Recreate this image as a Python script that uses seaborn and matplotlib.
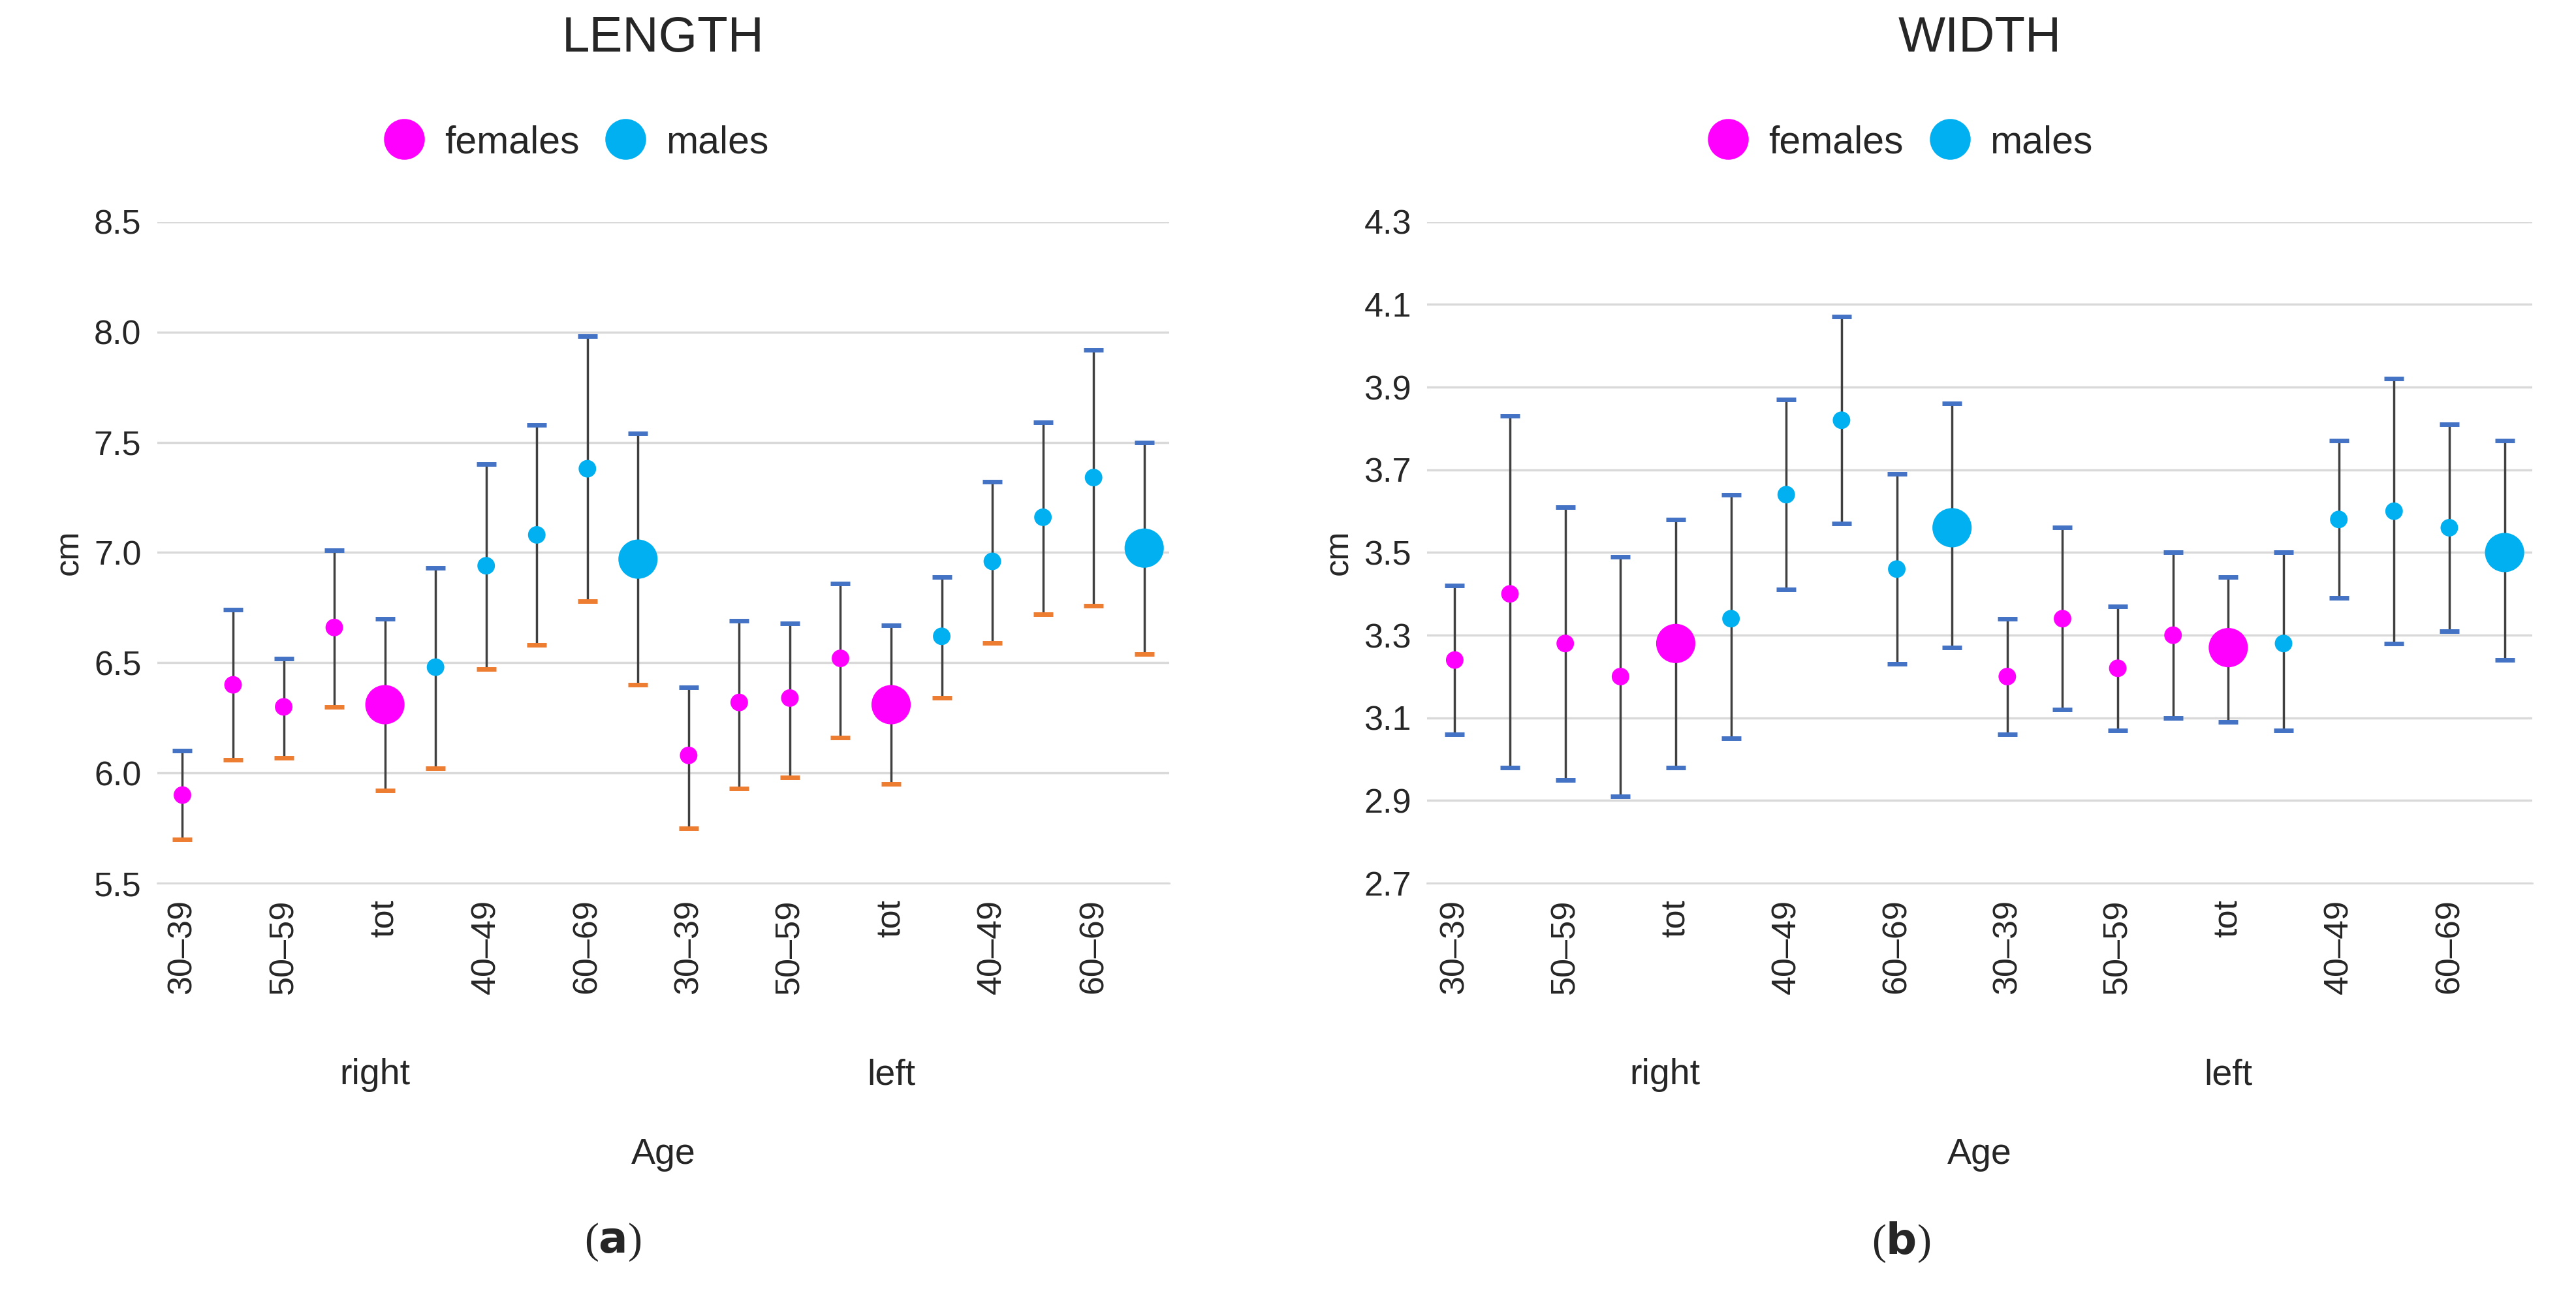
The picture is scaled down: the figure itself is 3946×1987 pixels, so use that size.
import numpy as np
import pandas as pd
import matplotlib.pyplot as plt
import seaborn as sns
from matplotlib.lines import Line2D

sns.set_style("white")
plt.rcParams['font.family'] = ['Liberation Sans', 'DejaVu Sans']

# 20 categories per panel: right (females 5, males 5), left (females 5, males 5)
ages = ['30–39', '40–49', '50–59', '60–69', 'tot']
sexes = (['females'] * 5 + ['males'] * 5) * 2
sides = ['right'] * 10 + ['left'] * 10
tick_labels = ages * 4

length_mean = [5.90, 6.40, 6.30, 6.66, 6.31, 6.48, 6.94, 7.08, 7.38, 6.97,
               6.08, 6.32, 6.34, 6.52, 6.31, 6.62, 6.96, 7.16, 7.34, 7.02]
length_low = [5.70, 6.06, 6.07, 6.30, 5.92, 6.02, 6.47, 6.58, 6.78, 6.40,
              5.75, 5.93, 5.98, 6.16, 5.95, 6.34, 6.59, 6.72, 6.76, 6.54]
length_high = [6.10, 6.74, 6.52, 7.01, 6.70, 6.93, 7.40, 7.58, 7.98, 7.54,
               6.39, 6.69, 6.68, 6.86, 6.67, 6.89, 7.32, 7.59, 7.92, 7.50]

width_mean = [3.24, 3.40, 3.28, 3.20, 3.28, 3.34, 3.64, 3.82, 3.46, 3.56,
              3.20, 3.34, 3.22, 3.30, 3.27, 3.28, 3.58, 3.60, 3.56, 3.50]
width_low = [3.06, 2.98, 2.95, 2.91, 2.98, 3.05, 3.41, 3.57, 3.23, 3.27,
             3.06, 3.12, 3.07, 3.10, 3.09, 3.07, 3.39, 3.28, 3.31, 3.24]
width_high = [3.42, 3.83, 3.61, 3.49, 3.58, 3.64, 3.87, 4.07, 3.69, 3.86,
              3.34, 3.56, 3.37, 3.50, 3.44, 3.50, 3.77, 3.92, 3.81, 3.77]

colores = {'females': '#FF00FF', 'males': '#00B0F0'}
cap_blue = '#4472C4'
cap_orange = '#ED7D31'

fig = plt.figure(figsize=(15.784, 7.948), dpi=250)
ax_a = fig.add_axes([0.061, 0.319, 0.393, 0.51])
ax_b = fig.add_axes([0.554, 0.319, 0.429, 0.51])


def painel(ax, media, baixo, alto, titulo, yticks, cor_baixo, letra, xc, xleg):
    x = np.arange(20)
    df = pd.DataFrame({'x': x, 'y': media, 'sexo': sexes,
                       'tam': ['tot' if a == 'tot' else 'age' for a in tick_labels]})
    # error bars: grey stem, coloured caps
    ax.vlines(x, baixo, alto, color='#404040', lw=1, zorder=1)
    ax.scatter(x, alto, marker='_', s=70, color=cap_blue, lw=2, zorder=2)
    ax.scatter(x, baixo, marker='_', s=70, color=cor_baixo, lw=2, zorder=2)
    sns.scatterplot(data=df, x='x', y='y', hue='sexo', palette=colores,
                    size='tam', sizes={'age': 60, 'tot': 300}, ax=ax,
                    edgecolor='none', legend=False, zorder=3)
    ax.set_xlim(-0.5, 19.5)
    ax.set_ylim(yticks[0], yticks[-1])
    ax.set_yticks(yticks)
    ax.set_yticklabels([f'{v:.1f}' for v in yticks], fontsize=15, color='#262626')
    ax.set_xticks(x[::2])
    ax.set_xticklabels(tick_labels[::2], rotation=90, fontsize=15, color='#262626')
    ax.tick_params(axis='both', length=0, pad=7)
    ax.grid(axis='y', color='#D9D9D9', lw=1)
    for s in ['top', 'right', 'left']:
        ax.spines[s].set_visible(False)
    ax.spines['bottom'].set_color('#D9D9D9')
    ax.set_xlabel('')
    ax.set_ylabel('cm', fontsize=15)
    ax.set_title(titulo, fontsize=22, pad=75)
    trans = ax.get_xaxis_transform()
    ax.text(3.8, -0.29, 'right', transform=trans, ha='center', va='center', fontsize=16)
    ax.text(14.0, -0.29, 'left', transform=trans, ha='center', va='center', fontsize=16)
    ax.text(9.5, -0.41, 'Age', transform=trans, ha='center', va='center', fontsize=16)
    fig.text(xc, 0.042, '(' + r'$\mathbf{' + letra + '}$' + ')', ha='center',
             va='center', fontsize=19, family='Liberation Serif')
    handles = [Line2D([], [], marker='o', ls='', ms=17, color=colores[k], label=k)
               for k in ['females', 'males']]
    ax.legend(handles=handles, loc='lower center', bbox_to_anchor=(xleg, 1.04),
              ncol=2, frameon=False, fontsize=17, handletextpad=0.05,
              columnspacing=0.2)


painel(ax_a, length_mean, length_low, length_high, 'LENGTH',
       [5.5, 6.0, 6.5, 7.0, 7.5, 8.0, 8.5], cap_orange, 'a', 0.238, 0.405)
painel(ax_b, width_mean, width_low, width_high, 'WIDTH',
       [2.7, 2.9, 3.1, 3.3, 3.5, 3.7, 3.9, 4.1, 4.3], cap_blue, 'b', 0.738, 0.42)

fig.savefig('out.png', dpi=250)
